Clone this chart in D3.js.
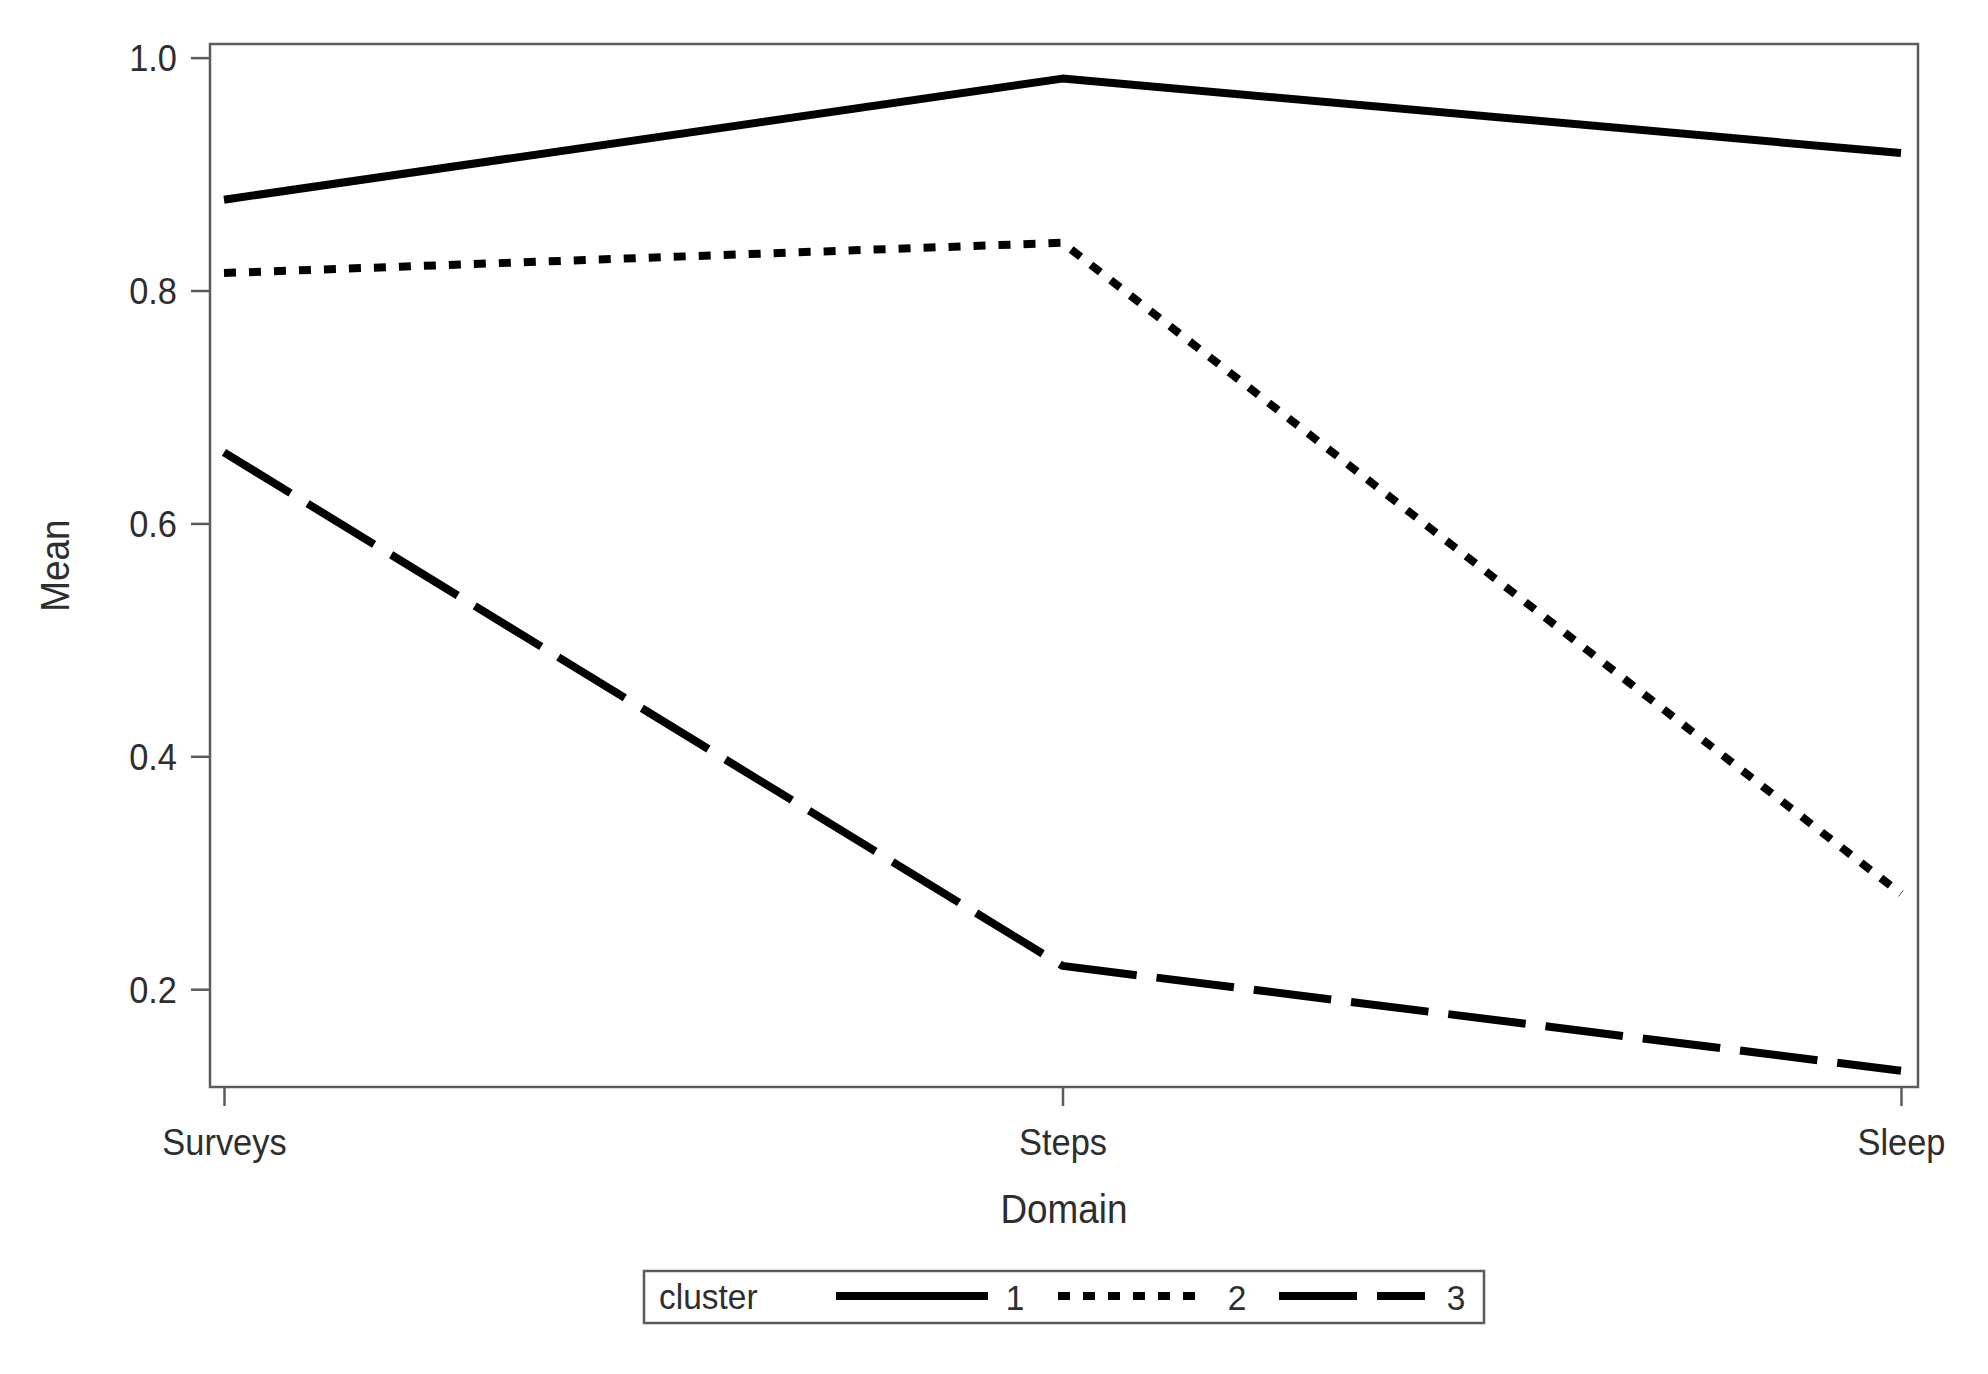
<!DOCTYPE html>
<html>
<head>
<meta charset="utf-8">
<script src="https://cdn.jsdelivr.net/npm/d3@7"></script>
<style>
  html, body { margin: 0; padding: 0; background: #fff; }
  svg { display: block; }
  text { font-family: "Liberation Sans", Arial, sans-serif; fill: #2e2e2e; }
</style>
</head>
<body>
<svg id="chart" width="1988" height="1374"></svg>
<script>
// ---- data ----
const domains = ["Surveys", "Steps", "Sleep"];
const clusterNames = ["1", "2", "3"];
const cluster1 = [0.878, 0.982, 0.918];
const cluster2 = [0.815, 0.841, 0.282];
const cluster3 = [0.661, 0.220, 0.130];
const yTicks = [0.2, 0.4, 0.6, 0.8, 1.0];
const xTitle = "Domain";
const yTitle = "Mean";
const legendTitle = "cluster";

const seriesValues = [cluster1, cluster2, cluster3];
const dashes = [null, "12,13", "78,20"];

// ---- layout ----
const plot = { left: 210, right: 1918, top: 44, bottom: 1087 };
const svg = d3.select("#chart");

const x = d3.scalePoint().domain(domains).range([224, 1901]);
const y = d3.scaleLinear().domain([0.116, 1.0117]).range([plot.bottom, plot.top]);

const frameColor = "#5b5b5b";

function squeezedText(g, xPos, yPos, str, size, sx, anchor, rotate) {
  const t = g.append("g")
    .attr("transform", `translate(${xPos},${yPos})` + (rotate ? ` rotate(${rotate})` : "") + ` scale(${sx},1)`);
  return t.append("text")
    .attr("text-anchor", anchor)
    .attr("font-size", size)
    .text(str);
}

// y axis ticks
const yAxis = svg.append("g").attr("transform", `translate(${plot.left},0)`)
  .call(d3.axisLeft(y).tickValues(yTicks).tickFormat(d3.format(".1f")).tickSize(19).tickPadding(12));
yAxis.select(".domain").remove();
yAxis.selectAll(".tick line").attr("stroke", frameColor).attr("stroke-width", 2.5);
yAxis.selectAll(".tick text").remove();
yAxis.selectAll(".tick").each(function(d) {
  squeezedText(d3.select(this), -33, 13, d3.format(".1f")(d), 37, 0.93, "end");
});

// x axis ticks
const xAxis = svg.append("g").attr("transform", `translate(0,${plot.bottom})`)
  .call(d3.axisBottom(x).tickSize(19).tickPadding(12));
xAxis.select(".domain").remove();
xAxis.selectAll(".tick line").attr("stroke", frameColor).attr("stroke-width", 2.5);
xAxis.selectAll(".tick text").remove();
xAxis.selectAll(".tick").each(function(d) {
  squeezedText(d3.select(this), 0, 68, d, 37, 0.93, "middle");
});

// frame
svg.append("rect")
  .attr("x", plot.left).attr("y", plot.top)
  .attr("width", plot.right - plot.left).attr("height", plot.bottom - plot.top)
  .attr("fill", "none").attr("stroke", frameColor).attr("stroke-width", 2.5);

// lines
const line = d3.line().x((d, i) => x(domains[i])).y(d => y(d));
seriesValues.forEach((vals, i) => {
  svg.append("path")
    .datum(vals)
    .attr("d", line)
    .attr("fill", "none")
    .attr("stroke", "#000")
    .attr("stroke-width", 8)
    .attr("stroke-linecap", "butt")
    .attr("stroke-linejoin", "round")
    .attr("stroke-dasharray", dashes[i]);
});

// axis titles
squeezedText(svg, (plot.left + plot.right) / 2, 1223, xTitle, 41, 0.9, "middle");
squeezedText(svg, 69, (plot.top + plot.bottom) / 2, yTitle, 41, 0.9, "middle", -90);

// legend
const leg = { x: 644, y: 1271, w: 840, h: 52 };
const lg = svg.append("g");
lg.append("rect").attr("x", leg.x).attr("y", leg.y).attr("width", leg.w).attr("height", leg.h)
  .attr("fill", "#fff").attr("stroke", frameColor).attr("stroke-width", 2.5);
squeezedText(lg, 659, leg.y + leg.h / 2 + 12, legendTitle, 36, 0.93, "start");
const itemStarts = [836, 1058, 1279];
const itemLens = [152, 139, 146];
const labelX = [1015, 1237, 1456];
clusterNames.forEach((name, i) => {
  const cy = leg.y + leg.h / 2 - 1;
  lg.append("line")
    .attr("x1", itemStarts[i]).attr("x2", itemStarts[i] + itemLens[i])
    .attr("y1", cy).attr("y2", cy)
    .attr("stroke", "#000").attr("stroke-width", 8)
    .attr("stroke-dasharray", dashes[i]);
  squeezedText(lg, labelX[i], leg.y + leg.h / 2 + 13, name, 36, 0.93, "middle");
});
</script>
</body>
</html>
